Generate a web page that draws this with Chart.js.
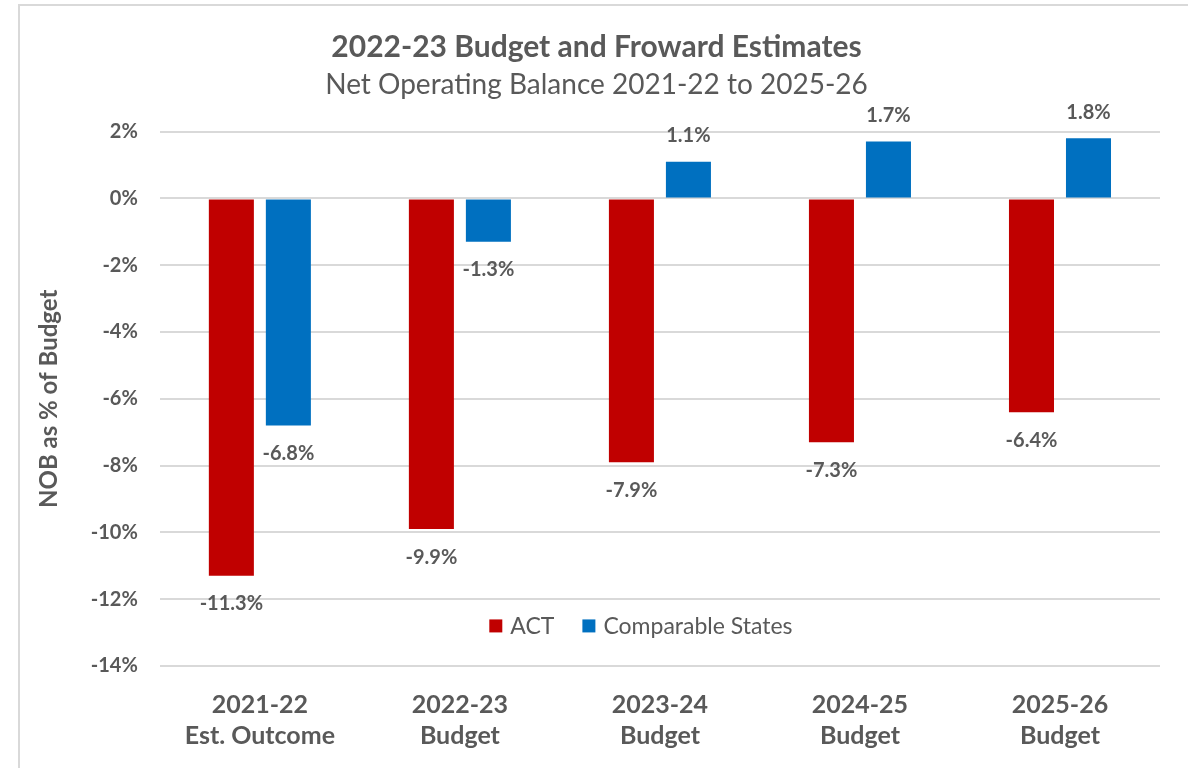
<!DOCTYPE html>
<html>
<head>
<meta charset="utf-8">
<script src="https://cdn.jsdelivr.net/npm/chart.js@4/dist/chart.umd.min.js"></script>
<style>
  html, body { margin: 0; padding: 0; background: #fff; }
  #wrap {
    position: absolute; left: 18px; top: 4px; width: 1170px; height: 764px;
    border-left: 2px solid #d9d9d9; border-top: 2px solid #d9d9d9; background: #fff;
  }
  canvas { display: block; }
</style>
</head>
<body>
<div id="wrap"><canvas id="nob"></canvas></div>
<script>
// chart values
const categories = [
  ["2021-22", "Est. Outcome"],
  ["2022-23", "Budget"],
  ["2023-24", "Budget"],
  ["2024-25", "Budget"],
  ["2025-26", "Budget"]
];
const actValues = [-11.3, -9.9, -7.9, -7.3, -6.4];
const statesValues = [-6.8, -1.3, 1.1, 1.7, 1.8];
const yTicks = [2, 0, -2, -4, -6, -8, -10, -12, -14];

const textGrey = "#595959";
const fontFamily = "Lato, 'Open Sans', sans-serif";

// draws the value labels above / below each bar
const valueLabels = {
  id: "valueLabels",
  afterDatasetsDraw(chart) {
    const ctx = chart.ctx;
    ctx.save();
    ctx.font = "bold 20px " + fontFamily;
    ctx.fillStyle = textGrey;
    ctx.textAlign = "center";
    ctx.textBaseline = "middle";
    chart.data.datasets.forEach((ds, i) => {
      chart.getDatasetMeta(i).data.forEach((bar, j) => {
        const v = ds.data[j];
        const y = v < 0 ? bar.y + 28 : bar.y - 26;
        ctx.fillText(v.toFixed(1) + "%", bar.x, y);
      });
    });
    ctx.restore();
  }
};

// legend drawn inside the plot area, near the bottom
const innerLegend = {
  id: "innerLegend",
  afterDraw(chart) {
    const ctx = chart.ctx;
    const area = chart.chartArea;
    ctx.save();
    ctx.font = "23px " + fontFamily;
    ctx.textBaseline = "middle";
    const box = 13, gap = 8, spacing = 28;
    const items = chart.data.datasets.map(ds => ({
      text: ds.label, color: ds.backgroundColor,
      w: box + gap + ctx.measureText(ds.label).width
    }));
    const total = items.reduce((s, it) => s + it.w, 0) + spacing * (items.length - 1);
    let x = (area.left + area.right) / 2 - total / 2 - 19;
    const y = chart.scales.y.getPixelForValue(-12.8);
    items.forEach(it => {
      ctx.fillStyle = it.color;
      ctx.fillRect(x, y - box / 2, box, box);
      ctx.fillStyle = textGrey;
      ctx.fillText(it.text, x + box + gap, y + 1);
      x += it.w + spacing;
    });
    ctx.restore();
  }
};

const canvas = document.getElementById("nob");
canvas.width = 1168;
canvas.height = 762;

new Chart(canvas.getContext("2d"), {
  type: "bar",
  data: {
    labels: categories,
    datasets: [
      { label: "ACT", data: actValues, backgroundColor: "#C00000",
        barPercentage: 0.79, categoryPercentage: 0.57 },
      { label: "Comparable States", data: statesValues, backgroundColor: "#0070C0",
        barPercentage: 0.79, categoryPercentage: 0.57 }
    ]
  },
  options: {
    responsive: false,
    animation: false,
    layout: { padding: { left: 13, right: 28, top: 0, bottom: 0 } },
    plugins: {
      legend: { display: false },
      tooltip: { enabled: false },
      title: {
        display: true,
        text: "2022-23 Budget and Froward Estimates",
        color: textGrey,
        font: { family: fontFamily, size: 30, weight: "bold" },
        padding: { top: 23, bottom: 3 }
      },
      subtitle: {
        display: true,
        text: "Net Operating Balance 2021-22 to 2025-26",
        color: textGrey,
        font: { family: fontFamily, size: 28 },
        padding: { top: 0, bottom: 30 }
      }
    },
    scales: {
      x: {
        grid: { display: false },
        border: { display: false },
        afterFit(scale) { scale.height = 102; },
        ticks: {
          color: textGrey,
          font: { family: fontFamily, size: 25, weight: "bold", lineHeight: 1.22 },
          padding: 16,
          maxRotation: 0
        }
      },
      y: {
        min: -14,
        max: 2,
        afterBuildTicks(scale) {
          scale.ticks = yTicks.map(v => ({ value: v }));
        },
        grid: { color: "#d9d9d9", lineWidth: 2, drawTicks: false },
        border: { display: false },
        ticks: {
          color: textGrey,
          font: { family: fontFamily, size: 20, weight: "bold" },
          padding: 22,
          callback: v => v + "%"
        },
        title: {
          display: true,
          text: "NOB as % of Budget",
          color: textGrey,
          font: { family: fontFamily, size: 24, weight: "bold" },
          padding: { top: 2, bottom: 5 }
        }
      }
    }
  },
  plugins: [valueLabels, innerLegend]
});
</script>
</body>
</html>
